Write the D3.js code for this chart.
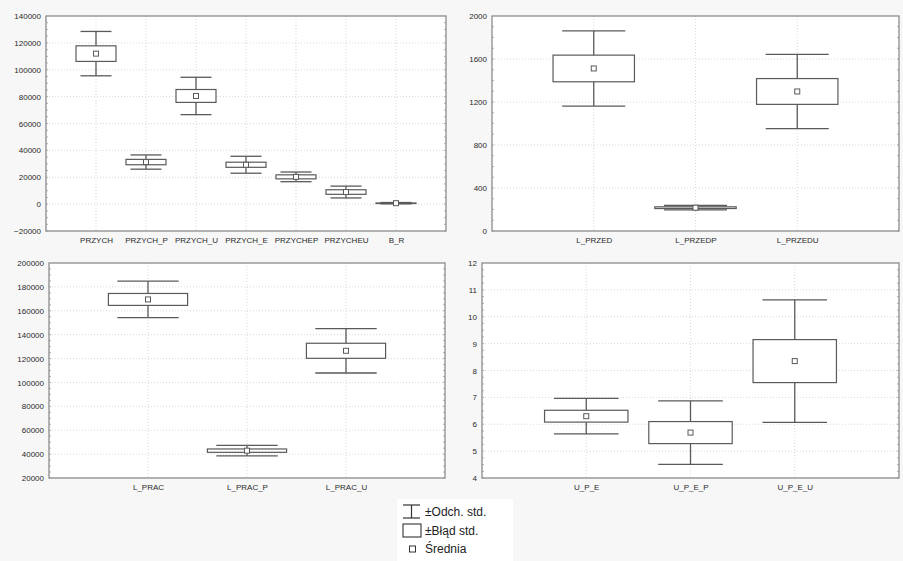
<!DOCTYPE html>
<html><head><meta charset="utf-8">
<script src="https://cdn.jsdelivr.net/npm/d3@7"></script>
<style>
html,body{margin:0;padding:0;background:#f7f7f7;}
svg{display:block;font-family:"Liberation Sans",Arial,sans-serif;}
</style></head>
<body><svg id="c" width="903" height="561"></svg>
<script>
// ---- data ----
const cats1 = ["PRZYCH","PRZYCH_P","PRZYCH_U","PRZYCH_E","PRZYCHEP","PRZYCHEU","B_R"];
const mean1 = [112000, 31300, 80500, 29300, 20300, 9000, 700];
const se1   = [5800, 2000, 4800, 1900, 1500, 1700, 150];
const sd1   = [16500, 5300, 13900, 6300, 3600, 4400, 500];
const ticks1 = [-20000, 0, 20000, 40000, 60000, 80000, 100000, 120000, 140000];

const cats2 = ["L_PRZED","L_PRZEDP","L_PRZEDU"];
const mean2 = [1512, 217, 1298];
const se2   = [124, 8, 120];
const sd2   = [350, 20, 345];
const ticks2 = [0, 400, 800, 1200, 1600, 2000];

const cats3 = ["L_PRAC","L_PRAC_P","L_PRAC_U"];
const mean3 = [169500, 42900, 126500];
const se3   = [5000, 1400, 6300];
const sd3   = [15300, 4400, 18600];
const ticks3 = [20000, 40000, 60000, 80000, 100000, 120000, 140000, 160000, 180000, 200000];

const cats4 = ["U_P_E","U_P_E_P","U_P_E_U"];
const mean4 = [6.3, 5.69, 8.35];
const se4   = [0.22, 0.41, 0.80];
const sd4   = [0.66, 1.18, 2.28];
const ticks4 = [4, 5, 6, 7, 8, 9, 10, 11, 12];

const legendLabels = ["±Odch. std.", "±Błąd std.", "Średnia"];

// ---- layout ----
const panels = [
  {x0:46,  x1:446, y0:16,  y1:231, cats:cats1, mean:mean1, se:se1, sd:sd1, ticks:ticks1},
  {x0:492, x1:899, y0:16,  y1:231, cats:cats2, mean:mean2, se:se2, sd:sd2, ticks:ticks2},
  {x0:49,  x1:445, y0:263, y1:478, cats:cats3, mean:mean3, se:se3, sd:sd3, ticks:ticks3},
  {x0:482, x1:899, y0:263, y1:478, cats:cats4, mean:mean4, se:se4, sd:sd4, ticks:ticks4}
];

const svg = d3.select("#c");
svg.append("rect").attr("width",903).attr("height",561).attr("fill","#f7f7f7");

const frameCol = "#8c8c8c", markCol = "#5a5a5a", gridCol = "#cfcfcf", textCol = "#2a2a2a";

panels.forEach(p => {
  const g = svg.append("g");
  const x = d3.scalePoint().domain(p.cats).range([p.x0, p.x1]).padding(1);
  const step = x.step();
  const y = d3.scaleLinear().domain([p.ticks[0], p.ticks[p.ticks.length-1]]).range([p.y1, p.y0]);

  g.append("rect").attr("x",p.x0).attr("y",p.y0).attr("width",p.x1-p.x0).attr("height",p.y1-p.y0)
    .attr("fill","#fff");

  // grid
  g.selectAll(".hg").data(p.ticks.slice(1,-1)).join("line")
    .attr("x1",p.x0).attr("x2",p.x1).attr("y1",d=>y(d)).attr("y2",d=>y(d))
    .attr("stroke",gridCol).attr("stroke-width",0.8).attr("stroke-dasharray","1,2");
  g.selectAll(".vg").data(p.cats).join("line")
    .attr("x1",d=>x(d)).attr("x2",d=>x(d)).attr("y1",p.y0).attr("y2",p.y1)
    .attr("stroke",gridCol).attr("stroke-width",0.8).attr("stroke-dasharray","1,2");

  // minor ticks inside left/right
  const minor = [];
  for (let i=0;i<p.ticks.length-1;i++){
    const a=p.ticks[i], b=p.ticks[i+1];
    for (let k=0;k<4;k++) minor.push(a+(b-a)*k/4);
  }
  [p.x0, p.x1].forEach((ex,side) => {
    g.selectAll(null).data(minor).join("line")
      .attr("x1",ex).attr("x2",side===0?ex+2:ex-2)
      .attr("y1",d=>y(d)).attr("y2",d=>y(d))
      .attr("stroke","#a0a0a0").attr("stroke-width",0.8);
  });

  // y axis labels via d3 axis
  const ay = g.append("g").attr("transform",`translate(${p.x0},0)`)
    .call(d3.axisLeft(y).tickValues(p.ticks).tickSize(0).tickPadding(5).tickFormat(d3.format("d")));
  ay.select(".domain").remove();
  ay.selectAll("text").attr("font-size",8).attr("fill",textCol).attr("font-family","Liberation Sans, Arial, sans-serif");

  // x axis labels (only top panels)
  if (p.y0 < 100) {
    const ax = g.append("g").attr("transform",`translate(0,${p.y1})`)
      .call(d3.axisBottom(x).tickSize(0).tickPadding(6));
    ax.select(".domain").remove();
    ax.selectAll("text").attr("font-size",8).attr("fill",textCol).attr("font-family","Liberation Sans, Arial, sans-serif");
  } else {
    const ax = g.append("g").attr("transform",`translate(0,${p.y1})`)
      .call(d3.axisBottom(x).tickSize(0).tickPadding(6));
    ax.select(".domain").remove();
    ax.selectAll("text").attr("font-size",8).attr("fill",textCol).attr("font-family","Liberation Sans, Arial, sans-serif");
  }

  // frame
  g.append("rect").attr("x",p.x0).attr("y",p.y0).attr("width",p.x1-p.x0).attr("height",p.y1-p.y0)
    .attr("fill","none").attr("stroke",frameCol).attr("stroke-width",1.3);

  const bw = step*0.8, cw = step*0.62;
  const items = p.cats.map((c,i)=>({c, m:p.mean[i], se:p.se[i], sd:p.sd[i]}));
  const b = g.selectAll(".b").data(items).join("g");
  // whisker stem
  b.append("line").attr("x1",d=>x(d.c)).attr("x2",d=>x(d.c))
    .attr("y1",d=>y(d.m+d.sd)).attr("y2",d=>y(d.m-d.sd))
    .attr("stroke",markCol).attr("stroke-width",1.3);
  // caps
  [1,-1].forEach(s => {
    b.append("line").attr("x1",d=>x(d.c)-cw/2).attr("x2",d=>x(d.c)+cw/2)
      .attr("y1",d=>y(d.m+s*d.sd)).attr("y2",d=>y(d.m+s*d.sd))
      .attr("stroke",markCol).attr("stroke-width",1.3);
  });
  // box
  b.append("rect").attr("x",d=>x(d.c)-bw/2).attr("width",bw)
    .attr("y",d=>y(d.m+d.se)).attr("height",d=>Math.max(0.5,y(d.m-d.se)-y(d.m+d.se)))
    .attr("fill","#fff").attr("stroke",markCol).attr("stroke-width",1.2);
  // mean
  b.append("rect").attr("x",d=>x(d.c)-2.5).attr("y",d=>y(d.m)-2.5).attr("width",5).attr("height",5)
    .attr("fill","#fff").attr("stroke",markCol).attr("stroke-width",1);
});

// legend
const lg = svg.append("g");
lg.append("rect").attr("x",397).attr("y",499).attr("width",116).attr("height",62).attr("fill","#fff");
const ly = [512, 531, 549];
// whisker icon
lg.append("line").attr("x1",403).attr("x2",420).attr("y1",505).attr("y2",505).attr("stroke","#333").attr("stroke-width",1.2);
lg.append("line").attr("x1",403).attr("x2",420).attr("y1",518).attr("y2",518).attr("stroke","#333").attr("stroke-width",1.2);
lg.append("line").attr("x1",411.5).attr("x2",411.5).attr("y1",505).attr("y2",518).attr("stroke","#333").attr("stroke-width",1.2);
// box icon
lg.append("rect").attr("x",403).attr("y",524).attr("width",18).attr("height",13).attr("fill","#fff").attr("stroke","#333").attr("stroke-width",1.1);
// mean icon
lg.append("rect").attr("x",409.5).attr("y",546).attr("width",6).attr("height",6).attr("fill","#fff").attr("stroke","#333").attr("stroke-width",1);
lg.selectAll("text.l").data(legendLabels).join("text")
  .attr("x",425).attr("y",(d,i)=>ly[i]).attr("dy","0.35em")
  .attr("font-size",12).attr("fill","#222").text(d=>d);
</script></body></html>
